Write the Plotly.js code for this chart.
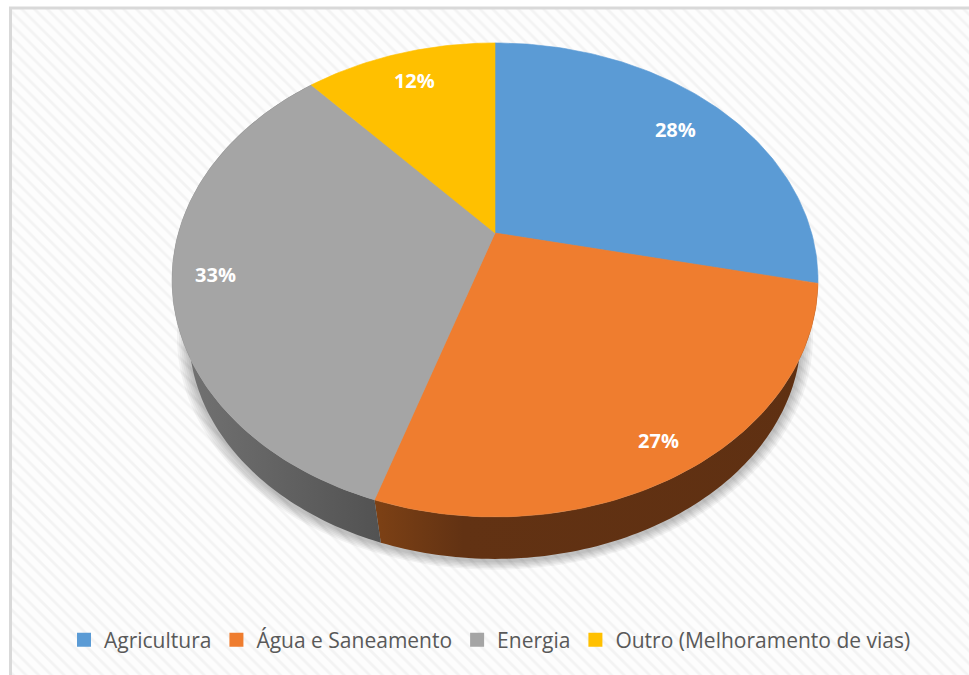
<!DOCTYPE html>
<html><head><meta charset="utf-8">
<script src="https://cdn.plot.ly/plotly-3.0.1.min.js"></script>
<style>html,body{margin:0;padding:0;background:#fff}#c{width:969px;height:675px}</style>
</head><body><div id="c"></div>
<script>
const categories = ["Agricultura", "Água e Saneamento", "Energia", "Outro (Melhoramento de vias)"];
const shares = [28.4, 26.6, 33.4, 11.6];
const labels = ["28%", "27%", "33%", "12%"];
const topColors = ["#5b9bd5", "#ef7d2f", "#a5a5a5", "#ffc000"];
const sideScales = [null, [[0,"#7d4115"],[0.2,"#623213"],[1,"#5f3012"]], [[0,"#747474"],[1,"#525252"]], null];
const labelRadius = [0.8, 0.88, 0.87, 0.8];
const labelNudgeX = [1, 0, 0, -2];
const labelNudgeY = [3, 5, 2, -2];

// 3D-pie projection (tilted disc in perspective) onto the pixel-sized axes
const CX = 495, CY = 233, RX = 316.6, RY = 227.7, K = -0.198;
const RIM_CY = 280, BOTTOM_CY = 334.4, BOTTOM_SCALE = 0.9475;
function proj(r, frac) {
  const a = frac * 2 * Math.PI, u = r * Math.sin(a), v = -r * Math.cos(a), d = 1 + K * v;
  return [CX + RX * u / d, CY + RY * v / d];
}
function lower(p, s, dy) {
  return [CX + s * (p[0] - CX), BOTTOM_CY + (dy || 0) + s * (p[1] - RIM_CY)];
}
function arc(f0, f1) {
  const pts = [], n = Math.max(2, Math.ceil((f1 - f0) * 360));
  for (let i = 0; i <= n; i++) pts.push(proj(1, f0 + (f1 - f0) * i / n));
  return pts;
}
const total = shares.reduce((a, b) => a + b, 0);
const starts = []; shares.reduce((s, v, i) => (starts[i] = s, s + v), 0);
const traces = [];

// hatched chart-area background
traces.push({type:"bar", x:[490], y:[666], base:[9], width:[958], showlegend:false, hoverinfo:"skip",
  marker:{color:"#fcfcfc", line:{width:0}, pattern:{shape:"\\", size:9, solidity:0.3, fgcolor:"#f3f3f3", bgcolor:"#fdfdfd"}}});

// soft shadow
for (let g = 12; g >= 2; g -= 2) {
  const p = arc(0, 1).map(q => lower(q, BOTTOM_SCALE + g / 323, 2));
  traces.push({type:"scatter", mode:"none", x:p.map(q=>q[0]), y:p.map(q=>q[1]), fill:"toself",
    fillcolor:"rgba(0,0,0,0.045)", showlegend:false, hoverinfo:"skip"});
}
// side walls
shares.forEach((v, i) => {
  if (!sideScales[i]) return;
  const f0 = starts[i] / total, f1 = (starts[i] + v) / total;
  const a = arc(f0, f1);
  const p = a.concat(a.map(q => lower(q, BOTTOM_SCALE)).reverse());
  traces.push({type:"scatter", mode:"none", x:p.map(q=>q[0]), y:p.map(q=>q[1]), fill:"toself",
    fillgradient:{type:"horizontal", colorscale:sideScales[i]}, showlegend:false, hoverinfo:"skip"});
});
// top slices
shares.forEach((v, i) => {
  const f0 = starts[i] / total, f1 = (starts[i] + v) / total;
  const p = [[CX, CY]].concat(arc(f0, f1)); p.push([CX, CY]);
  traces.push({type:"scatter", mode:"lines", x:p.map(q=>q[0]), y:p.map(q=>q[1]), fill:"toself",
    fillcolor:topColors[i], line:{color:topColors[i], width:0.6}, showlegend:false,
    name:categories[i], hoverinfo:"name"});
});
// data labels
const lab = shares.map((v, i) => proj(labelRadius[i], (starts[i] + v / 2) / total));
traces.push({type:"scatter", mode:"text", x:lab.map((q,i)=>q[0]+labelNudgeX[i]), y:lab.map((q,i)=>q[1]+labelNudgeY[i]), text:labels,
  textposition:"middle center", textfont:{family:"Open Sans, sans-serif", size:20, color:"#ffffff", weight:700},
  showlegend:false, hoverinfo:"skip"});
// legend entries
categories.forEach((c, i) => {
  traces.push({type:"scatter", mode:"markers", x:[null], y:[null], name:c,
    marker:{symbol:"square", size:14, color:topColors[i]}});
});

const layout = {
  width:969, height:675, margin:{l:0,r:0,t:0,b:0,pad:0},
  paper_bgcolor:"#ffffff", plot_bgcolor:"#ffffff",
  xaxis:{range:[0,969], visible:false, fixedrange:true},
  yaxis:{range:[675,0], visible:false, fixedrange:true},
  bargap:0, showlegend:true,
  legend:{orientation:"h", x:64/969, y:(675-640)/675, xanchor:"left", yanchor:"middle",
    bgcolor:"rgba(0,0,0,0)", borderwidth:0, tracegroupgap:0, traceorder:"normal",
    font:{family:"Open Sans, sans-serif", size:21, color:"#595959"}},
  shapes:[
    {type:"rect", layer:"between", x0:58, x1:930, y0:618, y1:664, fillcolor:"rgba(255,255,255,0.8)", line:{width:0}},
    {type:"rect", layer:"above", x0:10.5, x1:980, y0:8, y1:690, fillcolor:"rgba(0,0,0,0)", line:{color:"#d9d9d9", width:3}}
  ]
};
Plotly.newPlot("c", traces, layout, {displayModeBar:false, staticPlot:true});
</script></body></html>
